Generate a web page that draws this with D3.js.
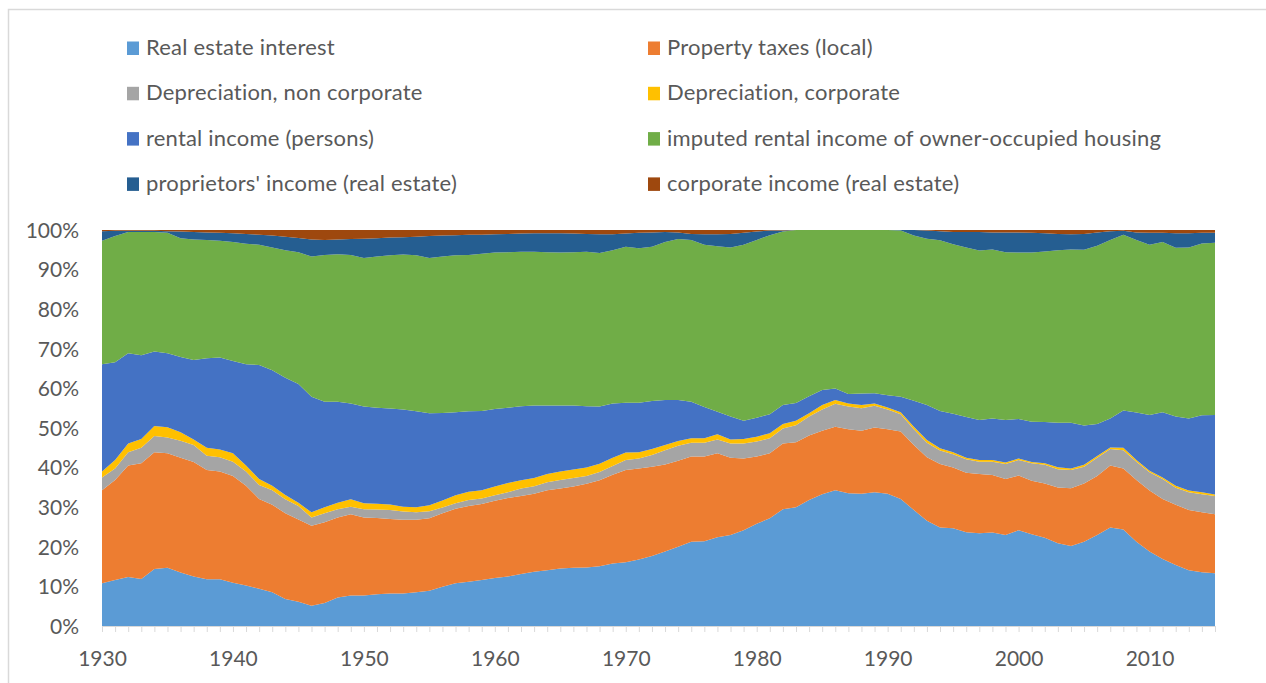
<!DOCTYPE html>
<html><head><meta charset="utf-8">
<script src="https://cdn.jsdelivr.net/npm/d3@7"></script>
<style>
html,body{margin:0;padding:0;background:#fff;}
svg{display:block;}
text{font-family:Lato,"Open Sans",sans-serif;}
</style></head><body>
<svg id="chart" width="1266" height="683"></svg>
<script>
const years = [1930,1931,1932,1933,1934,1935,1936,1937,1938,1939,
1940,1941,1942,1943,1944,1945,1946,1947,1948,1949,
1950,1951,1952,1953,1954,1955,1956,1957,1958,1959,
1960,1961,1962,1963,1964,1965,1966,1967,1968,1969,
1970,1971,1972,1973,1974,1975,1976,1977,1978,1979,
1980,1981,1982,1983,1984,1985,1986,1987,1988,1989,
1990,1991,1992,1993,1994,1995,1996,1997,1998,1999,
2000,2001,2002,2003,2004,2005,2006,2007,2008,2009,
2010,2011,2012,2013,2014,2015];

const realEstateInterest = [10.8,11.6,12.4,11.9,14.4,14.7,13.5,12.5,11.8,11.8,
10.9,10.2,9.4,8.5,6.8,6.1,5.1,5.8,7.2,7.7,
7.7,8.0,8.2,8.2,8.5,8.9,9.9,10.8,11.2,11.6,
12.1,12.5,13.1,13.7,14.1,14.5,14.7,14.8,15.1,15.8,
16.1,16.8,17.7,18.8,20.0,21.3,21.4,22.4,23.0,24.2,
25.8,27.2,29.5,30.0,31.8,33.3,34.3,33.5,33.4,33.8,
33.4,32.1,29.3,26.6,24.9,24.7,23.7,23.4,23.6,23.0,
24.2,23.2,22.3,20.9,20.2,21.3,23.0,24.9,24.4,21.3,
18.8,16.9,15.4,14.1,13.6,13.3];

const propertyTaxes = [23.5,25.3,28.1,29.2,29.5,28.9,29.0,28.9,27.6,27.2,
27.0,25.2,22.7,22.1,21.7,20.8,20.2,20.4,20.2,20.5,
19.7,19.3,18.8,18.6,18.3,18.3,18.6,18.8,19.1,19.2,
19.5,19.8,19.7,19.7,20.2,20.2,20.5,21.1,21.7,22.4,
23.3,23.0,22.5,22.0,21.7,21.5,21.4,21.2,19.5,18.1,
17.0,16.4,16.6,16.4,16.3,16.0,16.0,16.2,15.9,16.3,
16.3,17.0,16.4,16.0,16.0,15.3,15.0,15.0,14.5,14.1,
13.8,13.5,13.7,14.1,14.6,14.7,14.9,15.6,15.4,15.6,
15.4,15.2,15.2,15.2,15.1,14.9];

const deprNonCorporate = [3.2,2.9,3.4,3.9,4.1,4.0,4.3,4.3,3.6,3.6,
3.6,3.6,3.5,3.7,3.5,3.4,2.1,2.3,2.1,1.9,
2.1,2.1,2.3,2.1,1.9,1.8,1.4,1.4,1.5,1.4,
1.4,1.5,1.9,1.9,2.0,2.2,2.2,2.0,2.1,2.2,
2.5,2.5,3.0,3.6,3.8,3.5,3.5,3.5,3.6,3.8,
3.8,3.8,3.8,4.3,4.8,5.4,5.8,5.7,5.7,5.5,
5.0,4.4,4.0,3.7,3.4,3.4,3.4,3.1,3.4,3.8,
3.9,4.4,4.7,4.6,4.6,4.2,4.6,4.2,4.6,4.6,
4.6,5.0,4.3,4.5,4.6,4.6];

const deprCorporate = [1.5,2.1,2.2,2.2,2.5,2.6,2.1,1.4,2.0,2.0,
2.1,1.5,1.5,1.1,1.1,0.8,1.3,1.5,1.6,1.9,
1.5,1.5,1.4,1.2,1.3,1.5,1.8,2.0,2.1,2.1,
2.2,2.3,2.1,2.1,2.1,2.1,2.1,2.1,2.1,2.1,
1.9,1.6,1.5,1.3,1.2,1.1,1.1,1.3,1.0,1.1,
1.2,1.3,1.1,1.1,0.8,1.1,1.0,0.8,0.8,0.6,
0.5,0.5,0.6,0.7,0.6,0.5,0.4,0.4,0.4,0.4,
0.4,0.3,0.4,0.5,0.4,0.5,0.4,0.4,0.6,0.4,
0.4,0.4,0.5,0.4,0.5,0.4];

const rentalPersons = [27.1,24.7,22.8,21.2,18.8,18.7,19.0,20.1,22.6,23.2,
23.3,25.6,28.8,29.2,29.6,30.0,29.2,26.6,25.5,24.2,
24.4,24.2,24.2,24.6,24.2,23.2,22.1,21.0,20.3,20.0,
19.6,19.0,18.7,18.3,17.3,16.7,16.2,15.5,14.4,13.7,
12.6,12.5,12.1,11.4,10.4,9.2,7.9,5.7,5.8,4.6,
4.8,4.8,4.8,4.5,4.3,3.8,2.9,2.4,2.9,2.6,
3.1,3.9,6.6,8.8,9.4,9.7,10.3,10.1,10.5,10.7,
10.0,10.2,10.4,11.2,11.5,9.9,8.1,7.3,9.4,12.0,
14.1,16.5,17.5,18.2,19.4,20.0];

const imputedOwnerOccupied = [31.2,31.9,30.6,31.1,30.2,30.4,30.0,30.4,29.9,29.5,
30.1,30.4,30.4,31.0,32.2,33.3,35.4,37.1,37.3,37.5,
37.5,38.2,38.7,39.1,39.4,39.2,39.5,39.6,39.5,39.7,
39.5,39.3,39.0,38.8,38.7,38.6,38.7,39.0,38.8,38.7,
39.4,39.0,39.0,39.9,40.6,40.9,41.0,41.8,42.7,44.5,
44.9,45.2,43.8,43.7,42.0,40.4,40.0,41.4,41.3,41.2,
41.7,42.0,41.7,42.0,43.1,42.8,42.8,42.8,42.7,42.4,
42.0,42.7,43.1,43.6,43.8,44.4,45.0,45.1,44.4,43.6,
43.0,43.0,42.6,43.2,43.4,43.5];

const proprietorsIncome = [2.4,1.3,0.3,0.3,0.3,0.4,1.7,1.9,1.9,2.0,
2.2,2.5,2.5,3.0,3.4,3.6,4.3,3.8,3.7,4.0,
4.9,4.6,4.5,4.4,4.7,5.6,5.3,5.1,5.1,4.8,
4.6,4.6,4.6,4.7,4.8,4.9,4.7,4.5,4.7,4.0,
3.3,3.9,3.6,2.5,1.7,1.5,2.6,3.0,3.4,3.0,
2.1,1.2,0.3,0.0,0.0,0.0,0.0,0.0,0.0,0.0,
0.0,0.1,1.4,2.1,2.3,3.1,3.9,4.7,4.3,5.0,
5.1,5.0,4.6,4.1,3.8,4.0,3.4,2.2,1.0,1.9,
3.0,2.3,3.7,3.6,2.7,2.5];

const corporateIncome = [0.3,0.2,0.2,0.2,0.2,0.3,0.4,0.5,0.6,0.7,
0.8,1.0,1.2,1.4,1.7,2.0,2.4,2.5,2.4,2.3,
2.2,2.1,1.9,1.8,1.7,1.5,1.4,1.3,1.2,1.2,
1.1,1.0,0.9,0.8,0.8,0.8,0.9,1.0,1.1,1.1,
0.9,0.7,0.6,0.5,0.6,1.0,1.1,1.1,1.0,0.7,
0.4,0.1,0.1,0.0,0.0,0.0,0.0,0.0,0.0,0.0,
0.0,0.0,0.0,0.1,0.3,0.5,0.5,0.5,0.6,0.6,
0.6,0.7,0.8,1.0,1.1,1.0,0.6,0.3,0.2,0.6,
0.7,0.7,0.8,0.8,0.7,0.7];

const seriesNames = ["Real estate interest","Property taxes (local)","Depreciation, non corporate","Depreciation, corporate",
  "rental income (persons)","imputed rental income of owner-occupied housing","proprietors' income (real estate)","corporate income (real estate)"];
const seriesValues = [realEstateInterest,propertyTaxes,deprNonCorporate,deprCorporate,rentalPersons,imputedOwnerOccupied,proprietorsIncome,corporateIncome];
const seriesColors = ["#5B9BD5","#ED7D31","#A5A5A5","#FFC000","#4472C4","#70AD47","#255E91","#9E480E"];
const xLabelYears = [1930,1940,1950,1960,1970,1980,1990,2000,2010];
const yTickValues = [0,0.1,0.2,0.3,0.4,0.5,0.6,0.7,0.8,0.9,1.0];

const table = years.map((yr,i)=>{
  const row = {year: yr};
  seriesNames.forEach((n,k)=>{ row[n] = seriesValues[k][i]; });
  return row;
});

const svg = d3.select("#chart");
const textColor = "#595959";
const lineColor = "#d9d9d9";

// chart frame
svg.append("rect").attr("x",8.5).attr("y",9.5).attr("width",1270).attr("height",700)
  .attr("fill","#fff").attr("stroke",lineColor).attr("stroke-width",1.5);

const x = d3.scaleLinear().domain([d3.min(years), d3.max(years)]).range([102,1215]);
const y = d3.scaleLinear().domain([0,1]).range([626,230]);

const stack = d3.stack().keys(seriesNames).offset(d3.stackOffsetExpand);
const layers = stack(table);

const area = d3.area()
  .x(d=>x(d.data.year))
  .y0(d=>y(d[0]))
  .y1(d=>y(d[1]));

svg.append("g").selectAll("path").data(layers).join("path")
  .attr("d", area)
  .attr("fill", (d,i)=>seriesColors[i]);

// x axis
const xAxis = d3.axisBottom(x).tickValues(years)
  .tickFormat(d=> xLabelYears.includes(d) ? String(d) : "")
  .tickSizeInner(6).tickSizeOuter(0);
const gx = svg.append("g").attr("transform","translate(0,626)").call(xAxis);
gx.select(".domain").attr("stroke",lineColor).attr("stroke-width",1.2);
gx.selectAll(".tick line").attr("stroke",lineColor).attr("stroke-width",1);
gx.selectAll(".tick text").attr("y",39.5).attr("dy",null)
  .attr("fill",textColor).style("font-size","21px").style("font-family","Lato");

// y axis
const yAxis = d3.axisLeft(y).tickValues(yTickValues).tickFormat(d3.format(".0%")).tickSize(0).tickPadding(23);
const gy = svg.append("g").attr("transform","translate(102,0)").call(yAxis);
gy.select(".domain").remove();
gy.selectAll(".tick text").attr("dy",null).attr("y",7.3)
  .attr("fill",textColor).style("font-size","21px").style("font-family","Lato");

// legend
const legend = svg.append("g");
seriesNames.forEach((name,i)=>{
  const col = i % 2, row = Math.floor(i/2);
  const tx = col === 0 ? 146 : 667;
  const base = 55 + row*45.3;
  legend.append("rect").attr("x",tx-19).attr("y",base-13.5).attr("width",12).attr("height",13.5)
    .attr("fill",seriesColors[i]);
  legend.append("text").attr("x",tx).attr("y",base).text(name)
    .attr("fill",textColor).style("font-size","22px").style("letter-spacing","0.2px")
    .style("font-family","Lato");
});
</script>
</body></html>
